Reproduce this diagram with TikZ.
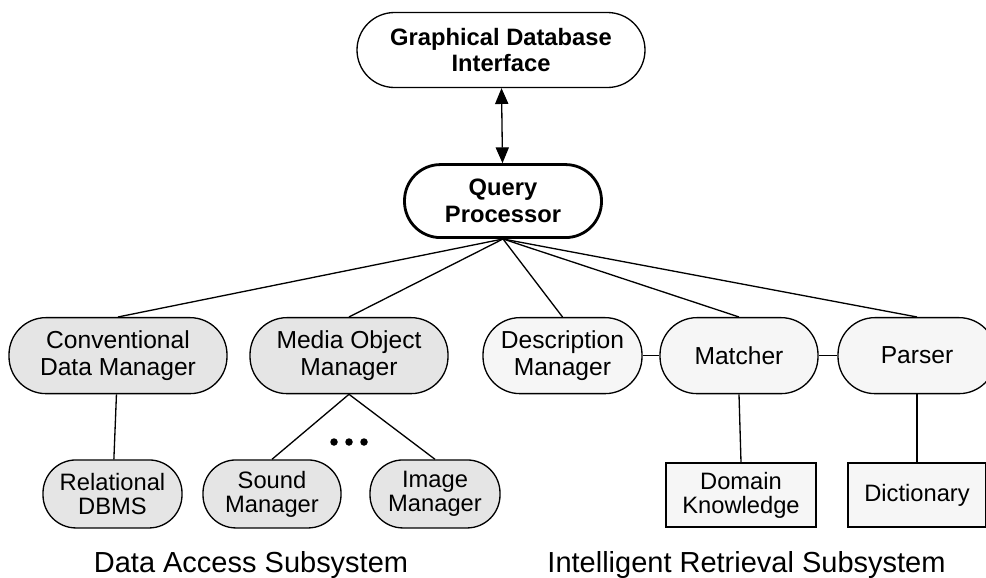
\documentclass[tikz,border=0pt]{standalone}
\usepackage{fontspec}
\setmainfont{Liberation Sans}
\usepackage{xcolor}
\usepackage{tikz}
\usetikzlibrary{arrows.meta, positioning}

\definecolor{dfill}{RGB}{229,229,229}
\definecolor{lfill}{RGB}{246,246,246}

\begin{document}
\begin{tikzpicture}[
  node font=\fontsize{14}{14.8}\selectfont,
  pill/.style={draw, line width=0.75pt, rounded corners=0.74cm,
    minimum height=1.52cm, align=center, inner sep=1pt},
  darkpill/.style={pill, fill=dfill},
  lightpill/.style={pill, fill=lfill},
  smallpill/.style={draw, line width=0.75pt, rounded corners=0.66cm,
    minimum height=1.36cm, align=center, inner sep=1pt, fill=dfill,
    font=\fontsize{13.5}{13.6}\selectfont},
  store/.style={draw, line width=0.75pt, fill=lfill, minimum height=1.28cm,
    align=center, inner sep=1pt, font=\fontsize{13.5}{13.6}\selectfont},
  boldpill/.style={draw, fill=white, align=center, inner sep=1pt,
    font=\fontsize{13.5}{14.5}\selectfont\bfseries},
  link/.style={line width=0.75pt},
  arrow/.style={{Triangle[length=9pt,width=7.5pt]}-{Triangle[length=9pt,width=7.5pt]},
    line width=0.75pt},
  caption/.style={font=\fontsize{16.5}{18}\selectfont, anchor=base},
]
  \useasboundingbox (0,0) rectangle (19.72,-11.54);

  % Interface and query processor
  \node[boldpill, line width=0.75pt, rounded corners=0.75cm, minimum width=5.76cm,
    minimum height=1.5cm] (gdi) at (10.02,-1.0)
    {Graphical Database\\Interface};
  \node[boldpill, line width=1.6pt, rounded corners=0.72cm, minimum width=3.94cm,
    minimum height=1.46cm, font=\fontsize{13.5}{15.5}\selectfont\bfseries,
    below=1.5cm of gdi, xshift=0.04cm] (qp)
    {Query\\Processor};

  % Middle row
  \node[darkpill, minimum width=4.36cm, below=1.56cm of qp, xshift=-7.7cm] (cdm)
    {Conventional\\Data Manager};
  \node[darkpill, minimum width=3.96cm, below=1.56cm of qp, xshift=-3.08cm] (mom)
    {Media Object\\Manager};
  \node[lightpill, minimum width=3.18cm, below=1.56cm of qp, xshift=1.19cm] (dm)
    {Description\\Manager};
  \node[lightpill, minimum width=3.16cm, below=1.56cm of qp, xshift=4.72cm] (match)
    {Matcher};
  \node[lightpill, minimum width=3.16cm, below=1.56cm of qp, xshift=8.28cm] (parse)
    {Parser};

  % Bottom row
  \node[smallpill, minimum width=2.78cm, below=1.3cm of cdm, xshift=-0.11cm] (rdb)
    {Relational\\DBMS};
  \node[smallpill, minimum width=2.76cm, below=1.3cm of mom, xshift=-1.54cm] (sound)
    {Sound\\Manager};
  \node[smallpill, minimum width=2.6cm, below=1.3cm of mom, xshift=1.72cm] (image)
    {Image\\Manager};
  \node[store, minimum width=3.0cm, below=1.36cm of match, xshift=0.04cm] (dk)
    {Domain\\Knowledge};
  \node[store, minimum width=2.76cm, below=1.36cm of parse] (dict)
    {Dictionary};

  % Subsystem captions
  \node[caption] (dal) at (5.02,-11.44) {Data Access Subsystem};
  \node[caption] (irl) at (14.93,-11.44) {Intelligent Retrieval Subsystem};

  % Connectors
  \draw[arrow] (gdi) -- (qp);
  \draw[link] (qp.south) -- (cdm.north);
  \draw[link] (qp.south) -- (mom.north);
  \draw[link] (qp.south) -- (dm.north);
  \draw[link] (qp.south) -- (match.north);
  \draw[link] (qp.south) -- (parse.north);
  \draw[link] (cdm) -- (rdb);
  \draw[link] (mom.south) -- (sound.north);
  \draw[link] (mom.south) -- (image.north);
  \draw[link] (dm) -- (match);
  \draw[link] (match) -- (parse);
  \draw[link] (match.south) -- (dk.north);
  \draw[link] (parse) -- (dict);

  % more media managers
  \fill (6.68,-8.84) circle (0.075) (6.98,-8.84) circle (0.075)
    (7.28,-8.84) circle (0.075);

\end{tikzpicture}
\end{document}
